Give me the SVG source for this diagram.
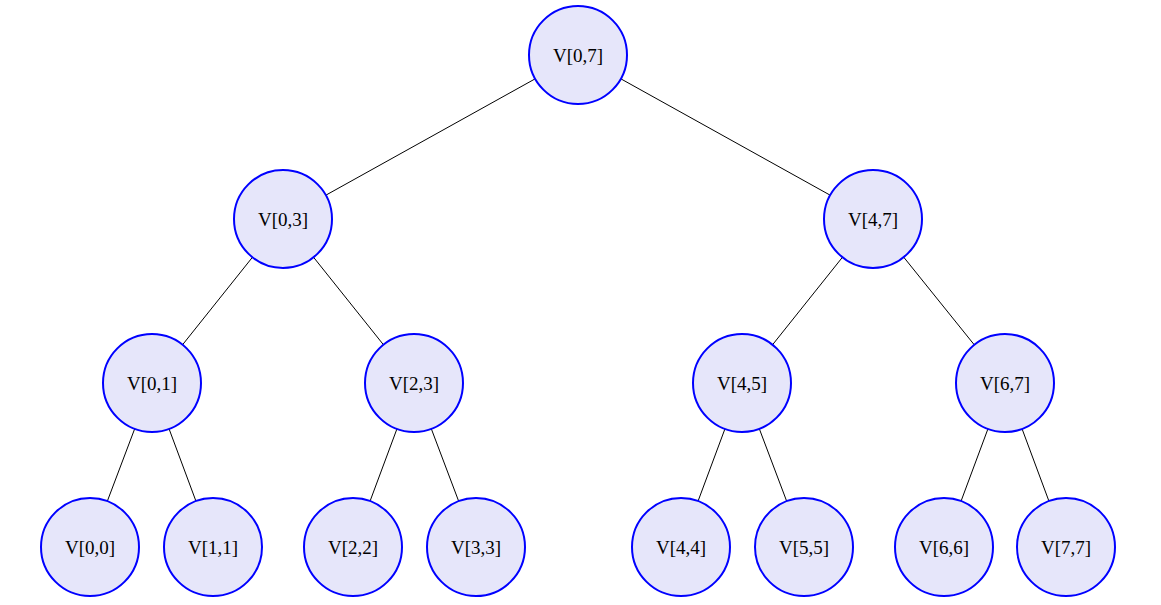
<svg xmlns="http://www.w3.org/2000/svg" width="1161" height="605" viewBox="0 0 1161 605">
<style>
circle{fill:#e6e6fa;stroke:#0000ff;stroke-width:2}
text{font-family:"Liberation Serif",serif;font-size:19px;text-anchor:middle;dominant-baseline:central;fill:#000}
line{stroke:#000;stroke-width:1}
</style>
<rect width="1161" height="605" fill="#fff"/>
<g id="edges">
<line x1="578" y1="55" x2="283" y2="219"/><line x1="578" y1="55" x2="873" y2="219"/>
<line x1="283" y1="219" x2="152" y2="383"/><line x1="283" y1="219" x2="414" y2="383"/>
<line x1="873" y1="219" x2="742" y2="383"/><line x1="873" y1="219" x2="1005" y2="383"/>
<line x1="152" y1="383" x2="90" y2="547"/><line x1="152" y1="383" x2="213" y2="547"/>
<line x1="414" y1="383" x2="353" y2="547"/><line x1="414" y1="383" x2="476" y2="547"/>
<line x1="742" y1="383" x2="681" y2="547"/><line x1="742" y1="383" x2="804" y2="547"/>
<line x1="1005" y1="383" x2="944" y2="547"/><line x1="1005" y1="383" x2="1066" y2="547"/>
</g>
<g id="n07"><circle cx="578" cy="55" r="49"/><text x="578" y="55">V[0,7]</text></g>
<g id="n03"><circle cx="283" cy="219" r="49"/><text x="283" y="219">V[0,3]</text></g>
<g id="n47"><circle cx="873" cy="219" r="49"/><text x="873" y="219">V[4,7]</text></g>
<g id="n01"><circle cx="152" cy="383" r="49"/><text x="152" y="383">V[0,1]</text></g>
<g id="n23"><circle cx="414" cy="383" r="49"/><text x="414" y="383">V[2,3]</text></g>
<g id="n45"><circle cx="742" cy="383" r="49"/><text x="742" y="383">V[4,5]</text></g>
<g id="n67"><circle cx="1005" cy="383" r="49"/><text x="1005" y="383">V[6,7]</text></g>
<g id="n00"><circle cx="90" cy="547" r="49"/><text x="90" y="547">V[0,0]</text></g>
<g id="n11"><circle cx="213" cy="547" r="49"/><text x="213" y="547">V[1,1]</text></g>
<g id="n22"><circle cx="353" cy="547" r="49"/><text x="353" y="547">V[2,2]</text></g>
<g id="n33"><circle cx="476" cy="547" r="49"/><text x="476" y="547">V[3,3]</text></g>
<g id="n44"><circle cx="681" cy="547" r="49"/><text x="681" y="547">V[4,4]</text></g>
<g id="n55"><circle cx="804" cy="547" r="49"/><text x="804" y="547">V[5,5]</text></g>
<g id="n66"><circle cx="944" cy="547" r="49"/><text x="944" y="547">V[6,6]</text></g>
<g id="n77"><circle cx="1066" cy="547" r="49"/><text x="1066" y="547">V[7,7]</text></g>
</svg>
